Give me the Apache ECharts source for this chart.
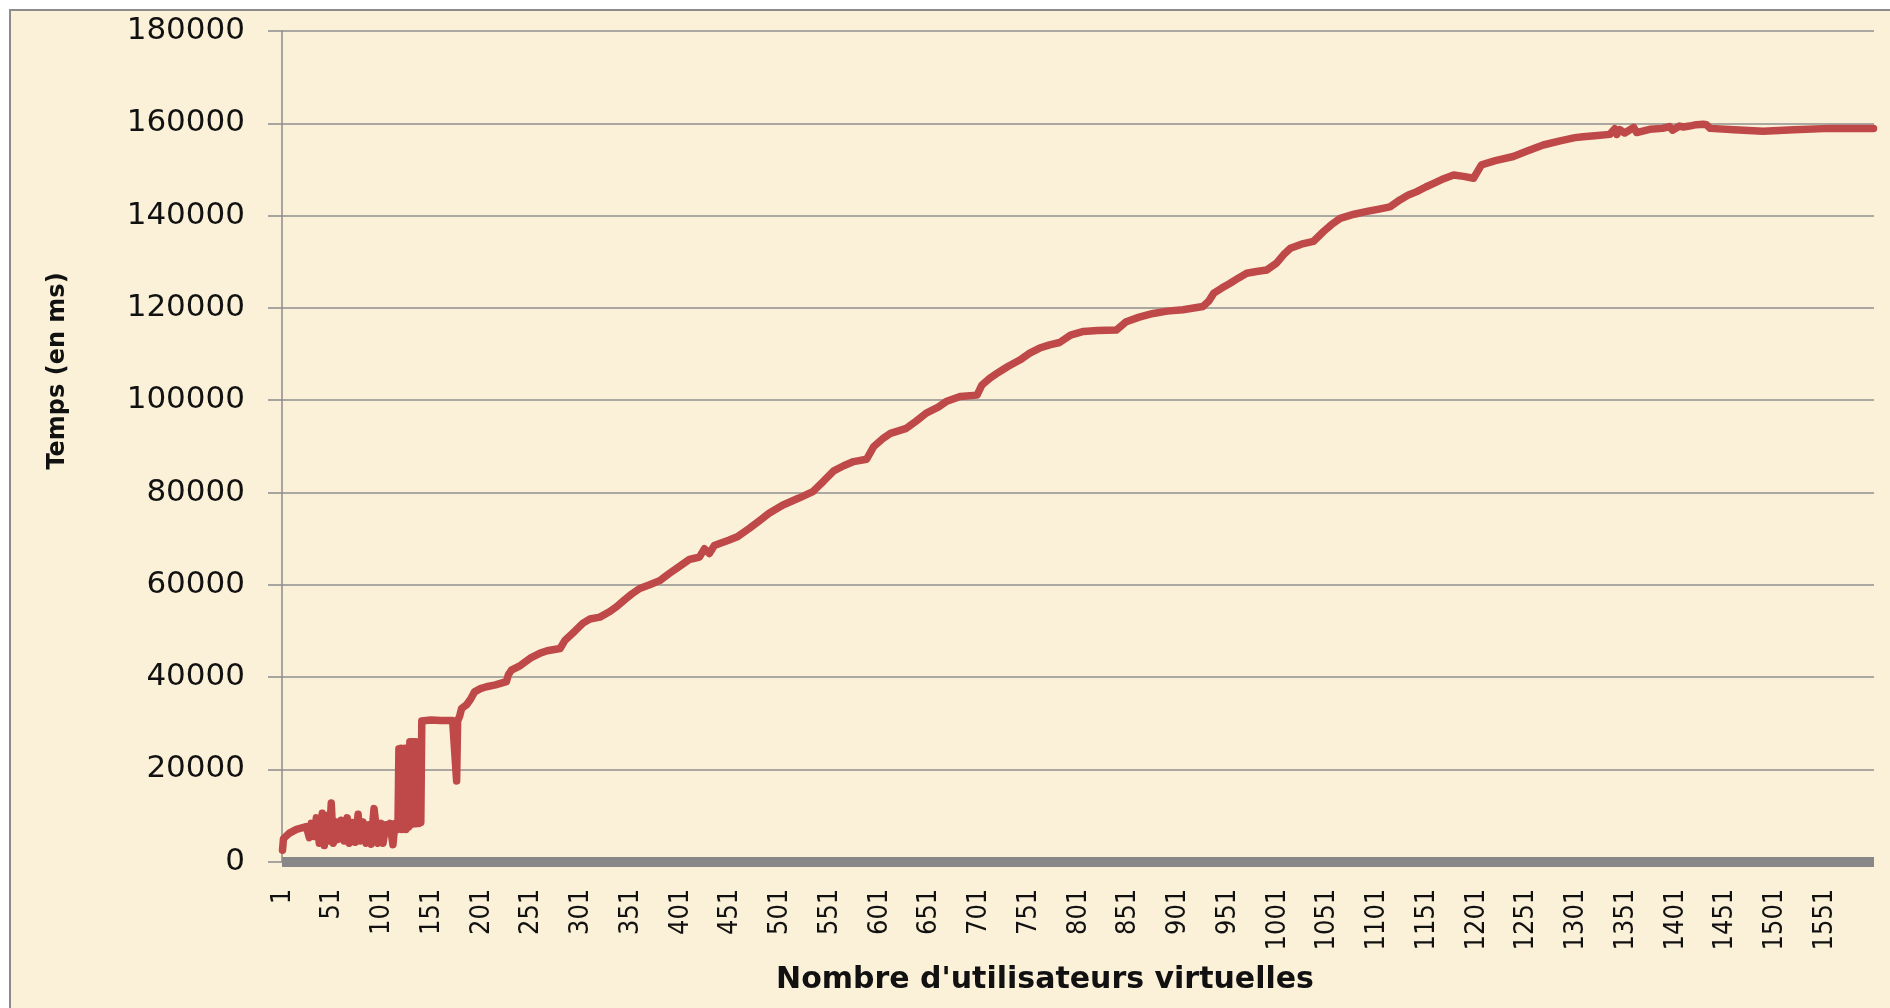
<!DOCTYPE html>
<html>
<head>
<meta charset="utf-8">
<script src="https://cdn.jsdelivr.net/npm/echarts@6/dist/echarts.min.js"></script>
<style>
  html, body { margin: 0; padding: 0; background: #fff; }
  #chart { width: 1890px; height: 1008px; }
</style>
</head>
<body>
<div id="chart"></div>
<script>
// number of virtual users on the x axis (category labels 1..1600)
let userCount = 1600;
let categories = [];
for (let i = 1; i <= userCount; i++) categories.push(String(i));

let users = [
  1, 2, 8, 15, 25, 28, 30, 33, 35, 38, 41, 43, 46, 48, 50, 52, 55, 57, 60, 63,
  66, 68, 71, 74, 77, 79, 82, 85, 88, 90, 93, 95, 97, 100, 102, 105, 107, 109, 112, 114,
  117, 118, 119, 120, 121, 122, 123, 124, 125, 126, 127, 128, 129, 130, 131, 132, 133, 134, 135, 136,
  137, 138, 139, 140, 141, 143, 150, 160, 172, 174, 176, 177, 179, 181, 186, 190, 194, 200, 206, 215,
  226, 228, 231, 240, 250, 260, 267, 280, 285, 295, 303, 310, 320, 330, 337, 345, 352, 360, 370, 380,
  390, 400, 410, 414, 420, 425, 430, 435, 441, 450, 458, 470, 481, 490, 504, 520, 534, 545, 555, 565,
  575, 588, 595, 605, 612, 628, 638, 648, 660, 668, 682, 699, 704, 712, 719, 730, 742, 752, 762, 772,
  782, 793, 806, 820, 839, 849, 862, 876, 890, 906, 926, 932, 937, 945, 953, 962, 970, 980, 990, 1000,
  1007, 1014, 1025, 1037, 1047, 1055, 1064, 1078, 1091, 1103, 1114, 1124, 1132, 1141, 1150, 1158, 1166, 1178, 1188, 1198,
  1206, 1220, 1238, 1252, 1268, 1285, 1300, 1308, 1320, 1335, 1340, 1342, 1345, 1350, 1359, 1362, 1375, 1388, 1395, 1398,
  1405, 1409, 1415, 1422, 1429, 1432, 1436, 1460, 1489, 1520, 1556, 1580, 1600
];
let times = [
  2500, 5000, 6200, 7000, 7600, 5200, 8300, 5500, 9500, 4000, 10500, 3500, 10000, 4500, 12700, 4000, 8600, 4800, 9000, 4500,
  9500, 4000, 8500, 4200, 10300, 4500, 8600, 4000, 8000, 3800, 11500, 11300, 4000, 8300, 4000, 8000, 7500, 8300, 3700, 8300,
  7000, 24500, 7200, 24600, 7000, 24400, 7300, 24600, 7000, 24600, 8000, 7500, 26000, 8000, 26000, 8500, 26000, 8200, 26000, 8300,
  25800, 8300, 25500, 8500, 30500, 30700, 30700, 30600, 30600, 30400, 17500, 30500, 31500, 33200, 34000, 35200, 36800, 37500, 37900, 38300,
  39000, 40500, 41500, 42500, 44100, 45200, 45700, 46200, 48000, 50000, 51700, 52600, 53000, 54200, 55300, 56800, 58000, 59200, 60000, 60900,
  62500, 64000, 65500, 65700, 66000, 67800, 66800, 68500, 69000, 69700, 70400, 72200, 74000, 75500, 77300, 78800, 80200, 82500, 84700, 85800,
  86700, 87200, 89900, 91800, 92800, 93900, 95500, 97200, 98500, 99700, 100800, 101100, 103300, 104800, 105800, 107300, 108700, 110200, 111300, 112000,
  112500, 114100, 114900, 115100, 115200, 117000, 118000, 118800, 119300, 119600, 120300, 121500, 123200, 124300, 125300, 126500, 127500, 127900, 128200, 129700,
  131500, 132900, 133800, 134400, 136500, 138000, 139400, 140300, 140900, 141400, 141900, 143400, 144400, 145200, 146200, 147000, 147800, 148800, 148500, 148100,
  151000, 151900, 152800, 154000, 155300, 156200, 156900, 157100, 157300, 157600, 158800, 157600, 158600, 157900, 159100, 158000, 158700, 158900, 159300, 158500,
  159400, 159200, 159400, 159700, 159800, 159700, 158900, 158600, 158300, 158600, 158900, 158900, 158900
];

let yTitle = 'Temps (en ms)';
let xTitle = "Nombre d'utilisateurs virtuelles";

let points = users.map((u, i) => [u - 1, times[i]]);

let chart = echarts.init(document.getElementById('chart'));
let option = {
  animation: false,
  backgroundColor: '#ffffff',
  grid: { left: 282, right: 16, top: 31, bottom: 146.3 },
  graphic: [
    {
      type: 'rect', z: -100, silent: true,
      shape: { x: 10, y: 10, width: 1900, height: 1020 },
      style: { fill: '#FBF0D8', stroke: '#8c8c8c', lineWidth: 2 }
    },
    {
      type: 'text', x: 58, y: 371, rotation: Math.PI / 2,
      style: {
        text: yTitle, fill: '#111',
        font: 'bold 24px "DejaVu Sans"',
        textAlign: 'center', textVerticalAlign: 'middle'
      }
    },
    {
      type: 'text', x: 1045, y: 980,
      style: {
        text: xTitle, fill: '#111',
        font: 'bold 30px "DejaVu Sans"',
        textAlign: 'center', textVerticalAlign: 'middle'
      }
    }
  ],
  xAxis: {
    type: 'category',
    data: categories,
    boundaryGap: true,
    offset: 5,
    axisLine: { show: true, lineStyle: { color: '#888888', width: 10, cap: 'butt' } },
    axisTick: { show: false },
    axisLabel: {
      interval: 49,
      rotate: 90,
      margin: 22,
      color: '#111',
      fontSize: 27,
      fontFamily: '"DejaVu Sans Condensed", "DejaVu Sans", sans-serif'
    },
    splitLine: { show: false }
  },
  yAxis: {
    type: 'value',
    min: 0,
    max: 180000,
    interval: 20000,
    axisLine: { show: true, lineStyle: { color: '#8c8c8c', width: 1.5 } },
    axisTick: { show: true, length: 14, lineStyle: { color: '#8c8c8c', width: 1.5 } },
    axisLabel: {
      margin: 37,
      color: '#111',
      fontSize: 31,
      fontFamily: '"DejaVu Sans", sans-serif',
      formatter: v => String(v)
    },
    splitLine: { show: true, lineStyle: { color: '#909090', width: 1.5 } }
  },
  series: [{
    type: 'line',
    data: points,
    showSymbol: false,
    lineStyle: { color: '#BF4848', width: 7.5, cap: 'round', join: 'round' },
    itemStyle: { color: '#BF4848' }
  }]
};
chart.setOption(option);
</script>
</body>
</html>
